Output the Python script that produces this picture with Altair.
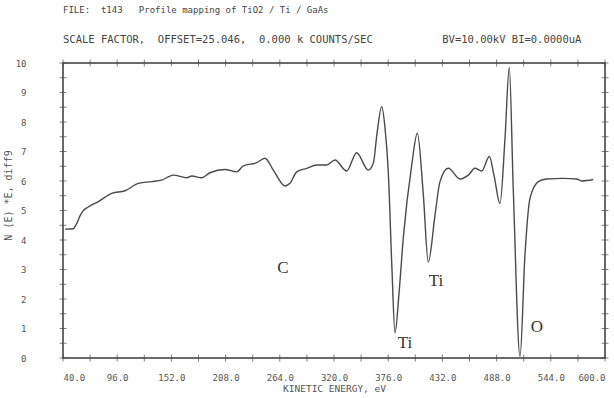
import altair as alt
import numpy as np
import pandas as pd

# Spectrum (kinetic energy eV, N(E)*E diff)
energy = [42.1, 50.4, 54.0, 57.3, 60.5, 66.1, 76.5, 90.3, 104.1, 117.8, 131.6, 142.0, 154.0,
          167.8, 173.0, 183.3, 191.9, 207.4, 219.5, 226.3, 240.1, 248.7, 257.3, 269.4,
          274.5, 281.5, 291.8, 302.1, 312.5, 321.0, 333.1, 343.4, 355.4, 360.6, 364.4,
          369.3, 372.7, 376.1, 379.9, 383.0, 387.2, 391.6, 400.3, 406.1, 412.3, 417.4,
          424.4, 429.5, 438.1, 450.2, 458.8, 465.7, 472.6, 480.5, 485.3, 491.5, 496.7,
          501.1, 505.2, 512.2, 517.3, 522.5, 531.1, 539.8, 556.9, 570.7, 575.9, 587.9]
signal = [4.37, 4.38, 4.55, 4.80, 4.98, 5.12, 5.30, 5.58, 5.67, 5.92, 5.98, 6.03, 6.20,
          6.11, 6.17, 6.11, 6.28, 6.39, 6.31, 6.51, 6.62, 6.77, 6.37, 5.83,
          5.92, 6.31, 6.43, 6.54, 6.54, 6.71, 6.34, 6.96, 6.37, 6.60, 7.60,
          8.52, 7.80, 6.31, 3.00, 0.85, 2.20, 4.07, 6.54, 7.62, 5.53, 3.25,
          4.85, 5.98, 6.43, 6.07, 6.20, 6.43, 6.34, 6.83, 6.20, 5.24, 7.46,
          9.85, 5.75, 0.05, 3.49, 5.41, 5.98, 6.07, 6.09, 6.07, 6.00, 6.05]

# Peak annotations
ann_text = ["C", "Ti", "Ti", "O"]
ann_x = [267.3, 425.4, 393.4, 529.7]
ann_y = [3.05, 2.61, 0.51, 1.05]

# Axis labels / ticks
x_labels = [40, 96, 152, 208, 264, 320, 376, 432, 488, 544, 600]
y_labels = [0, 1, 2, 3, 4, 5, 6, 7, 8, 9, 10]
x_minor = list(np.arange(40, 601, 28))
y_minor = list(np.arange(0, 10.01, 0.5))

df = pd.DataFrame({"energy": energy, "signal": signal})
ann_df = pd.DataFrame({"label": ann_text, "energy": ann_x, "signal": ann_y})
ytick_df = pd.DataFrame({"energy": [40] * len(y_minor) + [600] * len(y_minor),
                         "signal": y_minor + y_minor})
xtick_df = pd.DataFrame({"energy": x_minor + x_minor,
                         "signal": [0] * len(x_minor) + [10] * len(x_minor)})

xscale = alt.Scale(domain=[40, 600], nice=False, zero=False)
yscale = alt.Scale(domain=[0, 10], nice=False, zero=False)

MONO = "DejaVu Sans Mono"
INK = "#4a4a4a"
XT = "KINETIC ENERGY, eV"
YT = "N (E) *E, diff9"

xaxis = alt.Axis(values=x_labels, format=".1f", title=XT,
                 ticks=False, domain=False, grid=False, labelPadding=15,
                 labelOverlap=False, labelFont=MONO, labelFontSize=9,
                 labelColor="#555", titleFont=MONO, titleFontSize=9.5,
                 titleFontWeight="normal", titleColor="#555", titlePadding=1)
yaxis = alt.Axis(values=y_labels, format="d", title=YT,
                 ticks=False, domain=False, grid=False, labelPadding=37,
                 labelFont=MONO, labelFontSize=9, labelColor="#555",
                 titleFont=MONO, titleFontSize=10, titleFontWeight="normal",
                 titleColor="#555", titleX=-55, titleY=132,
                 titleBaseline="middle")


def enc(ch):
    return ch.encode(
        x=alt.X("energy:Q", scale=xscale, axis=xaxis, title=XT),
        y=alt.Y("signal:Q", scale=yscale, axis=yaxis, title=YT),
    )


line = enc(alt.Chart(df).mark_line(color=INK, strokeWidth=1.4, interpolate="monotone"))
yticks = enc(alt.Chart(ytick_df).mark_tick(orient="horizontal", size=7, thickness=1, color=INK))
xticks = enc(alt.Chart(xtick_df).mark_tick(orient="vertical", size=7, thickness=1, color=INK))
ann = enc(alt.Chart(ann_df).mark_text(font="Liberation Serif", fontSize=17, color="#333",
                                      align="center", baseline="middle")).encode(text="label:N")

title = alt.Title(
    text="FILE:\u00a0 t143\u00a0\u00a0 Profile mapping of TiO2 / Ti / GaAs",
    subtitle="SCALE FACTOR,\u00a0 OFFSET=25.046,\u00a0 0.000 k COUNTS/SEC" + "\u00a0" * 11 + "BV=10.00kV BI=0.0000uA",
    anchor="start", frame="group", font=MONO, fontSize=9, fontWeight="normal",
    color="#444", subtitleFont=MONO, subtitleFontSize=10.5, subtitleColor="#444",
    offset=14, subtitlePadding=20,
)

chart = alt.layer(line, yticks, xticks, ann).properties(
    width=542, height=295, title=title,
    padding={"left": 63, "top": 63, "right": 9, "bottom": 40},
    autosize="none", background="white",
).configure_view(stroke="#3a3a3a", strokeWidth=1.5)

chart.save("out.html", embed_options={"renderer": "svg", "actions": False})
